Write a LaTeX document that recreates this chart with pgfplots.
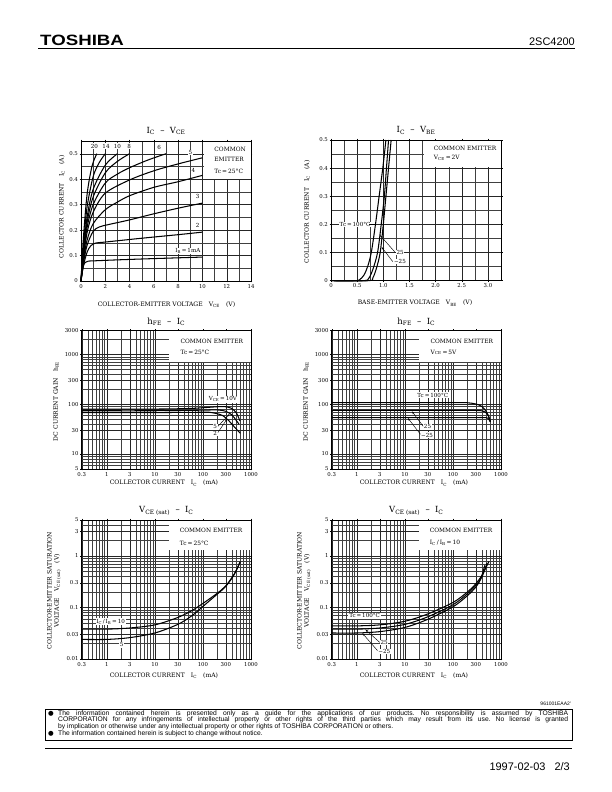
\documentclass[border=0pt]{standalone}
\usepackage{fontspec}
\setmainfont{DejaVu Serif}
\newfontfamily\hsans{Liberation Sans}
\newfontfamily\dvs{DejaVu Sans}
\usepackage{graphicx}
\usepackage{pgfplots}
\pgfplotsset{compat=1.18}
\usetikzlibrary{arrows.meta}

\newcommand{\an}{\fontsize{5.6}{6.5}\selectfont}
\newcommand{\bx}{\fontsize{5.9}{7}\selectfont}
\newcommand{\ft}{\hsans\fontsize{6.75}{7}\selectfont\frenchspacing}

\tikzset{ar/.style={-{Stealth[length=3pt,width=1.8pt]}, line width=0.45pt}}

\pgfplotsset{
 dsheet/.style={
   scale only axis, clip=false,
   axis line style={line width=0.6pt},
   grid=both,
   major grid style={line width=0.4pt, black!85},
   minor grid style={line width=0.3pt, black!75},
   tick align=outside, major tick length=1.5pt, minor tick length=0pt,
   tick style={black, line width=0.4pt},
   tick label style={font=\fontsize{5.4}{6}\selectfont},
   xticklabel style={inner sep=1.5pt},
   yticklabel style={inner sep=1.5pt},
   label style={font=\fontsize{6.1}{7.4}\selectfont},
   title style={font=\fontsize{8.5}{10}\selectfont, anchor=center, yshift=0pt},
   xlabel style={anchor=center},
   ylabel style={anchor=center},
   /pgf/number format/assume math mode=true,
   every axis plot/.append style={line width=1.05pt, black, no marks, solid},
 },
 logsheet/.style={dsheet, xmin=0.3, xmax=1000,
   width=169.3bp,
   xtick={0.3,1,3,10,30,100,300,1000}, xticklabels={0.3,1,3,10,30,100,300,1000},
   minor xtick={0.4,0.5,0.6,0.7,0.8,0.9,2,4,5,6,7,8,9,20,40,50,60,70,80,90,200,400,500,600,700,800,900},
   xlabel={COLLECTOR CURRENT\quad I\textsubscript{C}\quad (mA)},
 },
 cv/.style={smooth, black, line width=1.05pt, solid},
}

\begin{document}
\begin{tikzpicture}
\useasboundingbox (0,0) rectangle (612bp,792bp);
\fill[white] (0,0) rectangle (612bp,792bp);

% header
\node[anchor=base west, inner sep=0] at (40bp,746bp) {\hsans\bfseries\fontsize{15}{16}\selectfont\scalebox{1.25}[1]{TOSHIBA}};
\node[anchor=base east, inner sep=0, font=\hsans\fontsize{11}{12}\selectfont] at (575bp,746bp) {2SC4200};
\draw[line width=1pt] (38bp,743bp) -- (575bp,743bp);

% ---------------- Plot 1: IC - VCE
\begin{axis}[dsheet, at={(81bp,511bp)}, anchor=south west, width=170bp, height=140bp,
  xmin=0, xmax=14, ymin=0, ymax=0.55,
  xtick={0,2,4,6,8,10,12,14}, xticklabels={0,2,4,6,8,10,12,14},
  minor xtick={1,3,5,7,9,11,13},
  ytick={0,0.1,0.2,0.3,0.4,0.5}, yticklabels={0,0.1,0.2,0.3,0.4,0.5},
  minor ytick={0.05,0.15,0.25,0.35,0.45},
  title={I\textsubscript{C}\ \ –\ \ V\textsubscript{CE}},
  title style={at={(0.5,1.03)}},
  xlabel={COLLECTOR-EMITTER VOLTAGE\quad V\textsubscript{CE}\quad (V)},
  xlabel style={at={(axis description cs:0.503,-0.17)}},
  ylabel={COLLECTOR CURRENT\quad I\textsubscript{C}\quad (A)},
  ylabel style={at={(axis description cs:-0.112,0.53)}},
]
\addplot[cv] coordinates {(0,0) (0.1,0.035) (0.2,0.06) (0.35,0.073) (0.6,0.078) (1,0.079) (3,0.083) (6,0.088) (10,0.094)};
\addplot[cv] coordinates {(0,0) (0.2,0.06) (0.5,0.113) (0.8,0.138) (1.2,0.149) (2,0.153) (5,0.168) (8,0.182) (10,0.192)};
\addplot[cv] coordinates {(0,0) (0.2,0.07) (0.5,0.14) (1,0.195) (1.5,0.212) (2.2,0.221) (4,0.240) (6,0.264) (8,0.286) (10,0.306)};
\addplot[cv] coordinates {(0,0) (0.2,0.08) (0.5,0.16) (1,0.225) (2,0.28) (3,0.31) (4,0.335) (6,0.368) (8,0.39) (10,0.415)};
\addplot[cv] coordinates {(0,0) (0.2,0.09) (0.5,0.19) (1,0.27) (2,0.345) (4,0.397) (6,0.433) (8,0.46) (10,0.484)};
\addplot[cv] coordinates {(0,0) (0.2,0.1) (0.5,0.21) (1,0.3) (2,0.385) (3,0.42) (4,0.445) (5.5,0.475) (7,0.5)};
\addplot[cv] coordinates {(0,0) (0.2,0.11) (0.5,0.23) (1,0.33) (2,0.425) (3,0.47) (4,0.5)};
\addplot[cv] coordinates {(0,0) (0.2,0.12) (0.5,0.25) (1,0.36) (2,0.455) (3,0.5)};
\addplot[cv] coordinates {(0,0) (0.2,0.14) (0.5,0.29) (1,0.41) (1.5,0.465) (2,0.5)};
\addplot[cv] coordinates {(0,0) (0.2,0.17) (0.5,0.34) (0.9,0.45) (1.3,0.5)};
\fill[white] (axis cs:10.1,0.40) rectangle (axis cs:14,0.55);
\node[font=\bx, anchor=west] at (axis cs:10.7,0.517) {COMMON};
\node[font=\bx, anchor=west] at (axis cs:10.7,0.476) {EMITTER};
\node[font=\bx, anchor=west] at (axis cs:10.7,0.432) {Tc\,=\,25°C};
\node[font=\an, fill=white, inner sep=0.6pt] at (axis cs:1.1,0.53) {20};
\node[font=\an, fill=white, inner sep=0.6pt] at (axis cs:2.06,0.53) {14};
\node[font=\an, fill=white, inner sep=0.6pt] at (axis cs:3.0,0.53) {10};
\node[font=\an, fill=white, inner sep=0.6pt] at (axis cs:3.96,0.53) {8};
\node[font=\an, fill=white, inner sep=0.6pt] at (axis cs:6.43,0.523) {6};
\node[font=\an, fill=white, inner sep=0.6pt] at (axis cs:9.0,0.504) {5};
\node[font=\an, fill=white, inner sep=0.6pt] at (axis cs:9.26,0.435) {4};
\node[font=\an, fill=white, inner sep=0.6pt] at (axis cs:9.6,0.333) {3};
\node[font=\an, fill=white, inner sep=0.6pt] at (axis cs:9.6,0.219) {2};
\node[font=\an, fill=white, inner sep=0.6pt] at (axis cs:8.8,0.119) {I\textsubscript{B}\,=\,1mA};
\draw[line width=0.6pt] (rel axis cs:0,0) rectangle (rel axis cs:1,1);
\end{axis}

% ---------------- Plot 2: IC - VBE
\begin{axis}[dsheet, at={(331bp,511.3bp)}, anchor=south west, width=170bp, height=140.7bp,
  xmin=0, xmax=3.25, ymin=0, ymax=0.5,
  xtick={0,0.5,1,1.5,2,2.5,3}, xticklabels={0,0.5,1.0,1.5,2.0,2.5,3.0},
  minor xtick={0.25,0.75,1.25,1.75,2.25,2.75,3.25},
  ytick={0,0.1,0.2,0.3,0.4,0.5}, yticklabels={0,0.1,0.2,0.3,0.4,0.5},
  minor ytick={0.05,0.15,0.25,0.35,0.45},
  title={I\textsubscript{C}\ \ –\ \ V\textsubscript{BE}},
  title style={at={(0.5,1.025)}},
  xlabel={BASE-EMITTER VOLTAGE\quad V\textsubscript{BE}\quad (V)},
  xlabel style={at={(axis description cs:0.494,-0.16)}},
  ylabel={COLLECTOR CURRENT\quad I\textsubscript{C}\quad (A)},
  ylabel style={at={(axis description cs:-0.141,0.49)}},
]
\addplot[cv] coordinates {(0,0) (0.46,0) (0.55,0.004) (0.63,0.02) (0.7,0.05) (0.77,0.1) (0.85,0.2) (0.92,0.3) (0.99,0.4) (1.05,0.5)};
\addplot[cv] coordinates {(0,0) (0.62,0) (0.72,0.008) (0.8,0.04) (0.89,0.1) (0.96,0.2) (1.02,0.3) (1.06,0.4) (1.10,0.5)};
\addplot[cv] coordinates {(0,0) (0.72,0) (0.8,0.01) (0.87,0.045) (0.94,0.1) (1.0,0.2) (1.05,0.3) (1.1,0.4) (1.15,0.5)};
\fill[white] (axis cs:1.77,0.405) rectangle (axis cs:3.25,0.5);
\node[font=\bx, anchor=west] at (axis cs:1.9,0.47) {COMMON EMITTER};
\node[font=\bx, anchor=west] at (axis cs:1.9,0.435) {V\textsubscript{CE}\,=\,2V};
\node[font=\an, fill=white, inner sep=0.6pt] at (axis cs:0.46,0.2) {Tc\,=\,100°C};
\draw[line width=0.45pt] (axis cs:0.73,0.2) -- (axis cs:0.85,0.2);
\node[font=\an, fill=white, inner sep=0.6pt, anchor=west] at (axis cs:1.24,0.1) {25};
\node[font=\an, fill=white, inner sep=0.6pt, anchor=west] at (axis cs:1.19,0.068) {−25};
\draw[ar] (axis cs:1.23,0.1) -- (axis cs:0.935,0.162);
\draw[ar] (axis cs:1.18,0.068) -- (axis cs:0.965,0.12);
\draw[line width=0.6pt] (rel axis cs:0,0) rectangle (rel axis cs:1,1);
\end{axis}

% ---------------- Plot 3: hFE - IC (Ta=25)
\begin{loglogaxis}[logsheet, at={(81.7bp,323bp)}, anchor=south west, height=138.3bp,
  ymin=5, ymax=3000,
  ytick={5,10,30,100,300,1000,3000}, yticklabels={5,10,30,100,300,1000,3000},
  minor ytick={6,7,8,9,20,40,50,60,70,80,90,200,400,500,600,700,800,900,2000},
  title={h\textsubscript{FE}\ \ –\ \ I\textsubscript{C}},
  title style={at={(0.5,1.02)}},
  xlabel style={at={(axis description cs:0.486,-0.103)}},
  ylabel={DC CURRENT GAIN\quad h\textsubscript{FE}},
  ylabel style={at={(axis description cs:-0.152,0.49)}},
]
\addplot[cv] coordinates {(0.3,80) (10,80) (50,82) (100,85) (200,89) (300,89) (400,82) (500,66) (590,46)};
\addplot[cv] coordinates {(0.3,74) (10,74) (100,76) (200,77) (300,72) (400,61) (480,49) (560,40)};
\addplot[cv] coordinates {(0.3,68) (10,68) (100,69) (150,68) (250,60) (350,46) (450,35) (600,26)};
\fill[white] (axis cs:20,700) rectangle (axis cs:1000,3000);
\node[font=\bx, anchor=west] at (axis cs:29,1800) {COMMON EMITTER};
\node[font=\bx, anchor=west] at (axis cs:29,1100) {Tc\,=\,25°C};
\node[font=\an, fill=white, inner sep=0.6pt] at (axis cs:260,125) {V\textsubscript{CE}\,=\,10V};
\node[font=\an, fill=white, inner sep=0.6pt] at (axis cs:180,35) {5};
\node[font=\an, fill=white, inner sep=0.6pt] at (axis cs:180,26) {2};
\draw[ar] (axis cs:205,36) -- (axis cs:360,64);
\draw[ar] (axis cs:205,27) -- (axis cs:320,51);
\draw[line width=0.6pt] (rel axis cs:0,0) rectangle (rel axis cs:1,1);
\end{loglogaxis}

% ---------------- Plot 4: hFE - IC (VCE=5V)
\begin{loglogaxis}[logsheet, at={(331.7bp,323bp)}, anchor=south west, height=138.3bp,
  ymin=5, ymax=3000,
  ytick={5,10,30,100,300,1000,3000}, yticklabels={5,10,30,100,300,1000,3000},
  minor ytick={6,7,8,9,20,40,50,60,70,80,90,200,400,500,600,700,800,900,2000},
  title={h\textsubscript{FE}\ \ –\ \ I\textsubscript{C}},
  title style={at={(0.5,1.02)}},
  xlabel style={at={(axis description cs:0.486,-0.103)}},
  ylabel={DC CURRENT GAIN\quad h\textsubscript{FE}},
  ylabel style={at={(axis description cs:-0.152,0.49)}},
]
\addplot[cv] coordinates {(0.3,108) (100,108) (200,107) (300,101) (400,90) (500,70) (560,54) (600,44)};
\addplot[cv] coordinates {(0.3,75) (100,75) (300,75) (420,73) (500,66) (560,56) (600,45)};
\addplot[cv] coordinates {(0.3,54) (100,54) (300,54) (450,54) (540,52) (600,44)};
\fill[white] (axis cs:20,700) rectangle (axis cs:1000,3000);
\node[font=\bx, anchor=west] at (axis cs:29,1800) {COMMON EMITTER};
\node[font=\bx, anchor=west] at (axis cs:29,1100) {V\textsubscript{CE}\,=\,5V};
\node[font=\an, fill=white, inner sep=0.6pt] at (axis cs:38,152) {Tc\,=\,100°C};
\node[font=\an, fill=white, inner sep=0.6pt, anchor=west] at (axis cs:24,35) {25};
\node[font=\an, fill=white, inner sep=0.6pt, anchor=west] at (axis cs:21,24) {−25};
\draw[ar] (axis cs:24,36) -- (axis cs:14,72);
\draw[ar] (axis cs:21,25) -- (axis cs:11.5,53);
\draw[line width=0.6pt] (rel axis cs:0,0) rectangle (rel axis cs:1,1);
\end{loglogaxis}

% ---------------- Plot 5: VCE(sat) - IC (Tc=25)
\begin{loglogaxis}[logsheet, at={(81.7bp,133bp)}, anchor=south west, height=139bp,
  ymin=0.01, ymax=5,
  ytick={0.01,0.03,0.1,0.3,1,3,5}, yticklabels={0.01,0.03,0.1,0.3,1,3,5},
  minor ytick={0.02,0.04,0.05,0.06,0.07,0.08,0.09,0.2,0.4,0.5,0.6,0.7,0.8,0.9,2,4},
  title={V\textsubscript{CE (sat)}\ \ –\ \ I\textsubscript{C}},
  title style={at={(0.5,1.02)}},
  xlabel style={at={(axis description cs:0.486,-0.12)}},
  ylabel={COLLECTOR-EMITTER SATURATION\\VOLTAGE\quad V\textsubscript{CE (sat)}\quad (V)},
  ylabel style={at={(axis description cs:-0.164,0.49)}, align=center},
]
\addplot[cv] coordinates {(0.3,0.038) (1,0.038) (3,0.040) (10,0.046) (30,0.064) (60,0.088) (100,0.12) (200,0.19) (300,0.265) (450,0.45) (600,0.78)};
\addplot[cv] coordinates {(0.3,0.024) (1,0.024) (3,0.026) (10,0.032) (30,0.047) (60,0.07) (100,0.105) (200,0.183) (300,0.258) (450,0.44) (590,0.76)};
\fill[white] (axis cs:20,1.3) rectangle (axis cs:1000,5);
\node[font=\bx, anchor=west] at (axis cs:28,3.1) {COMMON EMITTER};
\node[font=\bx, anchor=west] at (axis cs:28,1.77) {Tc\,=\,25°C};
\node[font=\an, fill=white, inner sep=0.8pt] at (axis cs:1.2,0.053) {I\textsubscript{C}\,/\,I\textsubscript{B}\,=\,10};
\node[font=\an, fill=white, inner sep=0.6pt] at (axis cs:2.04,0.0187) {5};
\draw[line width=0.6pt] (rel axis cs:0,0) rectangle (rel axis cs:1,1);
\end{loglogaxis}

% ---------------- Plot 6: VCE(sat) - IC (IC/IB=10)
\begin{loglogaxis}[logsheet, at={(331.7bp,133bp)}, anchor=south west, height=139bp,
  ymin=0.01, ymax=5,
  ytick={0.01,0.03,0.1,0.3,1,3,5}, yticklabels={0.01,0.03,0.1,0.3,1,3,5},
  minor ytick={0.02,0.04,0.05,0.06,0.07,0.08,0.09,0.2,0.4,0.5,0.6,0.7,0.8,0.9,2,4},
  title={V\textsubscript{CE (sat)}\ \ –\ \ I\textsubscript{C}},
  title style={at={(0.5,1.02)}},
  xlabel style={at={(axis description cs:0.486,-0.12)}},
  ylabel={COLLECTOR-EMITTER SATURATION\\VOLTAGE\quad V\textsubscript{CE (sat)}\quad (V)},
  ylabel style={at={(axis description cs:-0.164,0.49)}, align=center},
]
\addplot[cv] coordinates {(0.3,0.044) (1,0.044) (3,0.046) (10,0.054) (30,0.075) (100,0.125) (200,0.2) (300,0.29) (400,0.42) (560,0.78)};
\addplot[cv] coordinates {(0.3,0.038) (1,0.038) (3,0.040) (10,0.047) (30,0.066) (100,0.113) (200,0.185) (300,0.27) (400,0.39) (510,0.72)};
\addplot[cv] coordinates {(0.3,0.032) (1,0.032) (3,0.034) (10,0.041) (30,0.059) (100,0.103) (200,0.17) (300,0.25) (380,0.36) (460,0.66)};
\fill[white] (axis cs:20,1.3) rectangle (axis cs:1000,5);
\node[font=\bx, anchor=west] at (axis cs:28,3.1) {COMMON EMITTER};
\node[font=\bx, anchor=west] at (axis cs:28,1.77) {I\textsubscript{C}\,/\,I\textsubscript{B}\,=\,10};
\node[font=\an, fill=white, inner sep=0.8pt] at (axis cs:1.45,0.069) {Tc\,=\,100°C};
\node[font=\an, fill=white, inner sep=0.6pt, anchor=west] at (axis cs:3.0,0.021) {25};
\node[font=\an, fill=white, inner sep=0.6pt, anchor=west] at (axis cs:2.7,0.014) {−25};
\draw[ar] (axis cs:3.0,0.021) -- (axis cs:1.5,0.0375);
\draw[ar] (axis cs:2.7,0.0145) -- (axis cs:1.3,0.0318);
\draw[line width=0.6pt] (rel axis cs:0,0) rectangle (rel axis cs:1,1);
\end{loglogaxis}

% footer
\node[anchor=base east, inner sep=0, font=\hsans\fontsize{5}{6}\selectfont] at (571bp,86bp) {961001EAA2'};
\draw[line width=0.8pt] (45bp,52bp) rectangle (572bp,83bp);
\node[anchor=base west, inner sep=0, font=\dvs\fontsize{6.5}{7}\selectfont] at (48bp,76.5bp) {●};
\node[anchor=base west, inner sep=0, font=\dvs\fontsize{6.5}{7}\selectfont] at (48bp,56.5bp) {●};
\node[anchor=base west, inner sep=0, font=\ft] at (58bp,76.5bp) {\makebox[510bp][s]{The information contained herein is presented only as a guide for the applications of our products. No responsibility is assumed by TOSHIBA}};
\node[anchor=base west, inner sep=0, font=\ft] at (58bp,70bp) {\makebox[510bp][s]{CORPORATION for any infringements of intellectual property or other rights of the third parties which may result from its use. No license is granted}};
\node[anchor=base west, inner sep=0, font=\ft] at (58bp,63.3bp) {by implication or otherwise under any intellectual property or other rights of TOSHIBA CORPORATION or others.};
\node[anchor=base west, inner sep=0, font=\ft] at (58bp,56.5bp) {The information contained herein is subject to change without notice.};
\draw[line width=1pt] (45bp,44bp) -- (572bp,44bp);
\node[anchor=base east, inner sep=0, font=\hsans\fontsize{11}{12}\selectfont] at (570bp,22bp) {1997-02-03\hspace{9bp}2/3};
\end{tikzpicture}
\end{document}
